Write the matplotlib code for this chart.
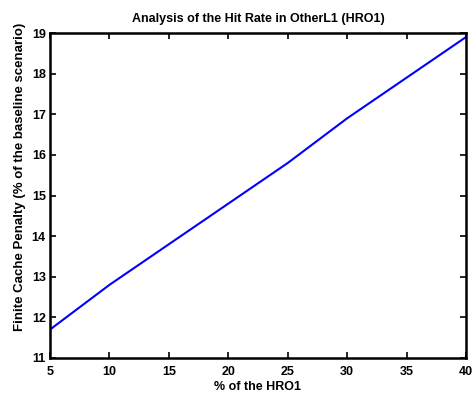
import numpy as np
import matplotlib
matplotlib.use("Agg")
import matplotlib.pyplot as plt

plt.rcParams['font.family'] = ['Liberation Sans', 'DejaVu Sans']
plt.rcParams['font.weight'] = 'bold'

# data
hro_pct = [5, 10, 15, 20, 25, 30, 35, 40]
penalty = [11.7, 12.8, 13.8, 14.8, 15.8, 16.9, 17.9, 18.9]

fig = plt.figure(figsize=(4.72, 3.93), dpi=100)
ax = fig.add_axes([50/472, 1 - 358/393, 416/472, 325/393])

ax.plot(hro_pct, penalty, color='#0000ff', linewidth=1.5)

ax.set_xlim(5, 40)
ax.set_ylim(11, 19)
ax.set_xticks(np.arange(5, 41, 5))
ax.set_yticks(np.arange(11, 20, 1))

ax.tick_params(direction='in', top=True, right=True, length=4, width=1.2,
               labelsize=9)
ax.tick_params(axis='x', pad=6)
ax.tick_params(axis='y', pad=3)
for lab in ax.get_xticklabels() + ax.get_yticklabels():
    lab.set_fontweight('bold')
for s in ax.spines.values():
    s.set_linewidth(1.8)

ax.set_title("Analysis of the Hit Rate in OtherL1 (HRO1)", fontsize=9,
             fontweight='bold', pad=8)
ax.set_xlabel("% of the HRO1", fontsize=9, fontweight='bold', labelpad=2)
ax.set_ylabel("Finite Cache Penalty (% of the baseline scenario)", fontsize=9.5,
              fontweight='bold')
ax.yaxis.set_label_coords(-24/416, 0.557)

fig.savefig("out.png", dpi=100)
